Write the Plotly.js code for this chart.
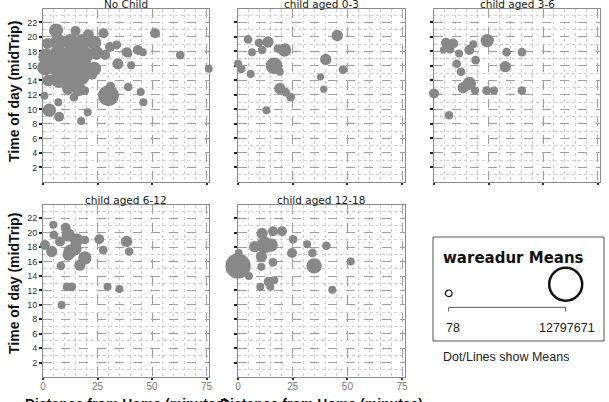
<!DOCTYPE html>
<html><head><meta charset="utf-8">
<script src="https://cdn.plot.ly/plotly-3.0.1.min.js"></script>
<style>html,body{margin:0;padding:0;background:#fff}#chart{width:609px;height:402px}</style>
</head><body><div id="chart"></div>
<script>
// ---------------- DATA ----------------
const panelNames = ["No Child", "child aged 0-3", "child aged 3-6", "child aged 6-12", "child aged 12-18"];
const yTickVals = [2, 4, 6, 8, 10, 12, 14, 16, 18, 20, 22];
const yTickText = ["2", "4", "6", "8", "10", "12", "14", "16", "18", "20", "22"];
const xTickVals = [0, 25, 50, 75];
const xTickText = ["0", "25", "50", "75"];
const legendMin = 78;
const legendMax = 12797671;

// No Child
const noChildDist = [51.4, 62.9, 76.0, 43.5, 45.8, 40.4, 34.3, 30.0, 31.0, 39.1, 44.8, 46.0, 20.5, 17.5, 7.4, 2.9, 7.0, 0.6, 14.2, 19.3,
  38.4, 33.8, 39.1,
  6.0, 14.9, 20.8, 27.7,
  2.0, 7.0, 12.5, 18.0, 23.5, 30.7,
  1.5, 7.0, 13.0, 19.0, 24.5, 28.5,
  1.0, 6.5, 12.5, 18.5, 23.5,
  2.5, 7.5, 13.0, 18.0, 22.5,
  11.5, 16.5];
const noChildTime = [20.5, 17.5, 15.6, 18.2, 17.9, 16.1, 16.3, 11.9, 13.2, 13.1, 12.4, 11.0, 9.6, 8.4, 9.0, 9.9, 11.0, 11.9, 11.7, 12.6,
  17.9, 18.9, 17.7,
  20.9, 20.8, 20.3, 20.5,
  19.1, 19.3, 19.3, 19.3, 19.2, 18.6,
  17.3, 17.6, 17.6, 17.5, 17.8, 17.5,
  15.8, 15.8, 15.8, 15.8, 15.6,
  14.0, 14.2, 14.0, 14.4, 14.8,
  12.9, 12.8];
const noChildWareadur = [1650000, 1020000, 680000, 1650000, 680000, 680000, 2130000, 6980000, 1160000, 1020000, 680000, 680000, 680000, 680000, 1650000, 3250000, 680000, 680000, 1020000, 680000,
  1650000, 1160000, 680000,
  3590000, 1650000, 2130000, 1650000,
  2130000, 4560000, 4560000, 4560000, 3590000, 1650000,
  4560000, 5530000, 5530000, 5530000, 3590000, 1650000,
  4560000, 5530000, 6500000, 5530000, 3590000,
  2620000, 5530000, 5530000, 3590000, 1650000,
  2620000, 3590000];

// child aged 0-3
const age03Dist = [4.6, 9.6, 13.7, 6.4, 11.0, 18.3, 21.3, 0.0, 1.5, 5.8, 16.5, 19.1, 19.1, 21.8, 24.1, 13.0, 45.4, 40.1, 48.0, 37.7, 39.2];
const age03Time = [19.65, 19.2, 19.3, 17.9, 18.2, 18.4, 18.2, 16.3, 15.6, 14.9, 16.0, 15.2, 12.9, 12.4, 11.7, 9.9, 20.2, 16.9, 15.5, 14.5, 12.8];
const age03Wareadur = [1020000, 1020000, 2280000, 680000, 1020000, 1020000, 3250000, 680000, 1020000, 680000, 4900000, 680000, 2280000, 1020000, 1020000, 680000, 2280000, 2280000, 1020000, 340000, 340000];

// child aged 3-6
const age36Dist = [5.5, 8.8, 4.3, 7.3, 11.5, 10.4, 12.4, 16.2, 18.0, 19.1, 24.4, 33.3, 40.3, 32.7, 16.2, 13.4, 18.8, 24.1, 27.5, 40.3, 0.0, 6.9];
const age36Time = [19.2, 19.1, 18.2, 18.3, 17.7, 16.3, 15.2, 18.2, 19.0, 16.8, 19.5, 17.9, 17.9, 15.9, 13.6, 13.0, 12.6, 12.6, 12.6, 12.6, 12.2, 9.2];
const age36Wareadur = [1650000, 1650000, 340000, 1020000, 680000, 1020000, 1020000, 1650000, 680000, 1020000, 3250000, 1020000, 1020000, 2280000, 3250000, 2280000, 680000, 1020000, 680000, 1020000, 1650000, 1020000];

// child aged 6-12
const age612Dist = [4.7, 10.4, 5.0, 11.6, 15.4, 7.8, 0.9, 4.0, 12.4, 14.7, 11.6, 19.2, 19.2, 16.9, 8.2, 25.8, 27.6, 38.3, 39.5, 11.0, 13.2, 29.6, 35.0, 8.5];
const age612Time = [21.1, 20.7, 19.7, 19.7, 19.0, 18.8, 18.3, 17.4, 17.4, 17.8, 16.9, 19.0, 16.5, 15.5, 15.4, 19.1, 17.6, 18.8, 17.4, 12.5, 12.5, 12.5, 12.2, 10.0];
const age612Wareadur = [680000, 1650000, 1020000, 3250000, 3250000, 1650000, 1650000, 2280000, 3250000, 3250000, 2280000, 1020000, 3250000, 2280000, 1020000, 1650000, 1020000, 2280000, 1020000, 1020000, 1020000, 680000, 680000, 680000];

// child aged 12-18
const age1218Dist = [0.0, 5.0, 0.3, 11.0, 16.0, 20.1, 25.2, 7.6, 12.2, 15.2, 10.7, 10.7, 16.0, 24.7, 31.6, 34.0, 40.4, 34.8, 51.5, 14.0, 16.5, 10.2, 14.8, 43.1];
const age1218Time = [15.4, 14.0, 17.2, 19.9, 20.2, 20.2, 19.1, 18.07, 18.3, 18.3, 16.7, 15.3, 15.9, 17.2, 18.4, 17.2, 18.2, 15.4, 16.0, 13.2, 13.4, 12.5, 12.5, 12.1];
const age1218Wareadur = [9070000, 680000, 680000, 2280000, 1650000, 1650000, 1020000, 2280000, 4900000, 3250000, 2280000, 680000, 1020000, 1650000, 680000, 1020000, 1020000, 4220000, 680000, 1650000, 680000, 680000, 680000, 680000];

// ---------------- LAYOUT HELPERS ----------------
const W = 609, H = 402;
const px = v => v / W;
const py = v => 1 - v / H;
const dMin = 6.6, dMax = 33;
const diam = v => dMin + (dMax - dMin) * (v - legendMin) / (legendMax - legendMin);

const cols = [[43, 209], [238, 404.5], [434, 600]];
const rows = [[9, 182], [205, 377]];
const panelPos = [[0, 0], [0, 1], [0, 2], [1, 0], [1, 1]];
const series = [
  [noChildDist, noChildTime, noChildWareadur],
  [age03Dist, age03Time, age03Wareadur],
  [age36Dist, age36Time, age36Wareadur],
  [age612Dist, age612Time, age612Wareadur],
  [age1218Dist, age1218Time, age1218Wareadur]
];

const bubbleColor = '#888888';
const traces = [];
const layout = {
  width: W, height: H,
  margin: {l: 0, r: 0, t: 0, b: 0},
  paper_bgcolor: '#fff', plot_bgcolor: '#fff',
  showlegend: false,
  font: {family: 'Liberation Sans, Arial, sans-serif', color: '#333'},
  annotations: [], shapes: []
};

function range(a, b, step, skip) {
  const out = [];
  for (let v = a; v <= b + 1e-9; v += step) { if (!skip(v)) out.push(v); }
  return out;
}
const xMinor = range(5, 75, 5, v => v % 25 === 0);
const yMinor = range(1, 23, 2, () => false);

panelPos.forEach((pos, i) => {
  const [r, c] = pos;
  const n = i === 0 ? '' : String(i + 1);
  const [x0, x1] = cols[c];
  const [y0, y1] = rows[r];
  const [xs, ys, ws] = series[i];
  traces.push({
    type: 'scatter', mode: 'markers',
    x: xs, y: ys,
    xaxis: 'x' + n, yaxis: 'y' + n,
    cliponaxis: false,
    hoverinfo: 'skip',
    marker: {color: bubbleColor, size: ws.map(diam), sizemode: 'diameter', opacity: 1, line: {width: 0}}
  });
  const common = {
    showline: true, mirror: true, linecolor: '#8c8c8c', linewidth: 1,
    showgrid: true, gridcolor: '#a0a0a0', griddash: 'dash', gridwidth: 1,
    zeroline: false, layer: 'below traces', automargin: false, fixedrange: true
  };
  layout['xaxis' + n] = Object.assign({}, common, {
    domain: [px(x0), px(x1)], anchor: 'y' + n,
    range: [0, 76.1], tickmode: 'array', tickvals: xTickVals, ticktext: xTickText,
    ticks: 'outside', ticklen: 2, tickwidth: 2, tickcolor: '#333',
    showticklabels: r === 1, ticklabelstandoff: -2,
    tickfont: {size: 10, color: '#777', family: 'Liberation Sans, Arial, sans-serif'},
    minor: {tickmode: 'array', tickvals: xMinor, showgrid: true, gridcolor: '#d2d2d2', griddash: 'dot', gridwidth: 1, ticks: ''}
  });
  layout['yaxis' + n] = Object.assign({}, common, {
    domain: [py(y1), py(y0)], anchor: 'x' + n,
    range: [0, 23.85], tickmode: 'array', tickvals: yTickVals, ticktext: yTickText,
    ticks: 'outside', ticklen: 3, tickwidth: 2, tickcolor: '#222',
    showticklabels: c === 0,
    tickfont: {size: 9, color: '#333', family: 'Liberation Sans, Arial, sans-serif'},
    minor: {tickmode: 'array', tickvals: yMinor, showgrid: true, gridcolor: '#d2d2d2', griddash: 'dot', gridwidth: 1, ticks: ''}
  });
  // panel title
  layout.annotations.push({
    xref: 'paper', yref: 'paper', x: px((x0 + x1) / 2), y: py(y0 + 2.5),
    xanchor: 'center', yanchor: 'bottom', showarrow: false, borderpad: 0,
    text: panelNames[i], font: {family: 'DejaVu Sans, sans-serif', size: 10.5, color: '#222'}
  });
});

// axis titles (shared per row/column)
const yTitle = 'Time of day (midTrip)';
const xTitle = 'Distance from Home (minutes)';
[92, 284].forEach(cy => layout.annotations.push({
  xref: 'paper', yref: 'paper', x: px(14), y: py(cy), xanchor: 'center', yanchor: 'middle',
  textangle: -90, showarrow: false, text: '<b>' + yTitle + '</b>',
  font: {family: 'Liberation Sans, Arial, sans-serif', size: 14, color: '#111'}
}));
[126, 321].forEach(cx => layout.annotations.push({
  xref: 'paper', yref: 'paper', x: px(cx), y: py(403.5), xanchor: 'center', yanchor: 'middle',
  showarrow: false, text: '<b>' + xTitle + '</b>',
  font: {family: 'Liberation Sans, Arial, sans-serif', size: 14, color: '#111'}
}));

// size legend box
layout.shapes.push({type: 'rect', xref: 'paper', yref: 'paper', x0: px(433), x1: px(604), y0: py(341), y1: py(237),
  line: {color: '#555', width: 1}, fillcolor: 'rgba(0,0,0,0)'});
const smallR = diam(legendMin) / 2, bigR = diam(legendMax) / 2;
layout.shapes.push({type: 'circle', xref: 'paper', yref: 'paper',
  x0: px(448.7 - smallR), x1: px(448.7 + smallR), y0: py(293.3 + smallR), y1: py(293.3 - smallR),
  line: {color: '#111', width: 1.2}});
layout.shapes.push({type: 'circle', xref: 'paper', yref: 'paper',
  x0: px(565.7 - bigR), x1: px(565.7 + bigR), y0: py(284.3 + bigR), y1: py(284.3 - bigR),
  line: {color: '#111', width: 2.5}});
layout.shapes.push({type: 'line', xref: 'paper', yref: 'paper', x0: px(448.7), x1: px(565.7), y0: py(307.3), y1: py(307.3), line: {color: '#555', width: 1}});
layout.shapes.push({type: 'line', xref: 'paper', yref: 'paper', x0: px(448.7), x1: px(448.7), y0: py(307.3), y1: py(311.5), line: {color: '#555', width: 1}});
layout.shapes.push({type: 'line', xref: 'paper', yref: 'paper', x0: px(565.7), x1: px(565.7), y0: py(307.3), y1: py(311.5), line: {color: '#555', width: 1}});
layout.annotations.push({xref: 'paper', yref: 'paper', x: px(441), y: py(257.5), xanchor: 'left', yanchor: 'middle', showarrow: false,
  text: '<b>wareadur Means</b>', font: {family: 'DejaVu Sans, sans-serif', size: 15, color: '#111'}});
layout.annotations.push({xref: 'paper', yref: 'paper', x: px(444), y: py(327.7), xanchor: 'left', yanchor: 'middle', showarrow: false,
  text: String(legendMin), font: {family: 'Liberation Sans, Arial, sans-serif', size: 12.5, color: '#222'}});
layout.annotations.push({xref: 'paper', yref: 'paper', x: px(597), y: py(327.7), xanchor: 'right', yanchor: 'middle', showarrow: false,
  text: String(legendMax), font: {family: 'Liberation Sans, Arial, sans-serif', size: 12.5, color: '#222'}});
layout.annotations.push({xref: 'paper', yref: 'paper', x: px(441), y: py(356.7), xanchor: 'left', yanchor: 'middle', showarrow: false,
  text: 'Dot/Lines show Means', font: {family: 'Liberation Sans, Arial, sans-serif', size: 12.5, color: '#222'}});

Plotly.newPlot('chart', traces, layout, {staticPlot: true, displayModeBar: false});
</script>
</body></html>
